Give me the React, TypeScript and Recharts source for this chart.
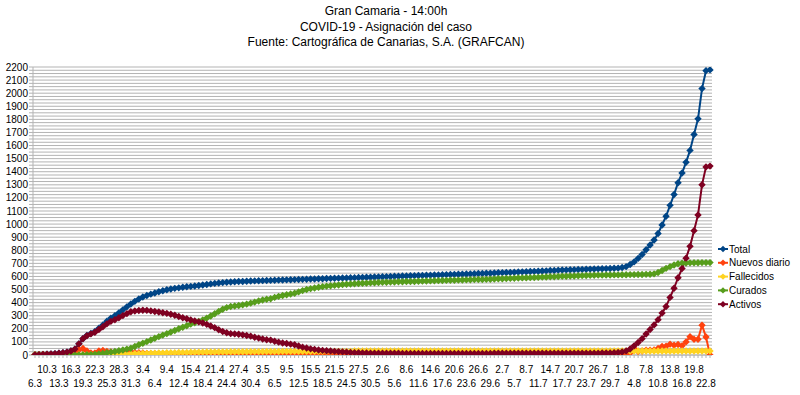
import React from 'react';
import { LineChart, Line, XAxis, YAxis, CartesianGrid } from 'recharts';

function dayLabels(month: number, from: number, to: number): string[] {
  const out: string[] = [];
  for (let d = from; d <= to; d++) out.push(`${d}.${month}`);
  return out;
}

const dates: string[] = [
  '6.3',
  ...dayLabels(3, 8, 31),
  ...dayLabels(4, 1, 30),
  ...dayLabels(5, 1, 31),
  ...dayLabels(6, 1, 30),
  ...dayLabels(7, 1, 31),
  ...dayLabels(8, 1, 23),
];

const total = [
  1, 2, 4, 6, 8, 10, 13, 17, 22, 30,
  45, 85, 125, 150, 165, 180, 205, 230, 258, 282,
  300, 322, 345, 368, 390, 410, 428, 443, 455, 465,
  474, 483, 491, 498, 504, 509, 513, 517, 521, 524,
  527, 531, 535, 539, 543, 547, 550, 553, 556, 558,
  560, 561, 562, 563, 565, 566, 567, 568, 569, 570,
  571, 572, 573, 574, 575, 576, 577, 578, 579, 580,
  581, 582, 583, 584, 585, 586, 587, 588, 589, 590,
  591, 592, 593, 594, 595, 596, 597, 598, 599, 600,
  601, 602, 603, 604, 605, 606, 607, 608, 609, 610,
  611, 612, 613, 614, 615, 616, 617, 618, 619, 620,
  621, 622, 623, 624, 625, 626, 628, 629, 630, 631,
  632, 634, 635, 636, 638, 639, 640, 642, 643, 645,
  646, 648, 649, 650, 651, 652, 653, 654, 655, 656,
  657, 658, 659, 660, 661, 663, 664, 668, 675, 691,
  711, 738, 768, 804, 840, 878, 928, 993, 1060, 1143,
  1226, 1316, 1390, 1472, 1563, 1684, 1804, 2035, 2172, 2178,
];

const nuevos = [
  1, 1, 2, 2, 2, 2, 3, 4, 5, 8,
  15, 40, 50, 30, 15, 15, 30, 35, 28, 24,
  20, 22, 23, 23, 22, 20, 18, 15, 12, 10,
  9, 9, 8, 7, 6, 5, 4, 4, 4, 3,
  3, 4, 4, 4, 4, 4, 3, 3, 3, 2,
  2, 1, 1, 1, 2, 1, 1, 1, 1, 1,
  1, 1, 1, 1, 1, 1, 1, 1, 1, 1,
  1, 1, 1, 1, 1, 1, 1, 1, 1, 1,
  1, 1, 1, 1, 1, 1, 1, 1, 1, 1,
  1, 1, 1, 1, 1, 1, 1, 1, 1, 1,
  1, 1, 1, 1, 1, 1, 1, 1, 1, 1,
  1, 1, 1, 1, 1, 1, 2, 1, 1, 1,
  1, 2, 1, 1, 2, 1, 1, 2, 1, 2,
  1, 2, 1, 1, 1, 1, 1, 1, 1, 1,
  1, 1, 1, 1, 1, 2, 1, 4, 7, 16,
  50, 27, 30, 36, 36, 38, 50, 65, 67, 83,
  75, 80, 70, 100, 140, 120, 120, 228, 137, 0,
];

const fallecidos = [
  0, 0, 0, 0, 0, 0, 0, 0, 0, 0,
  0, 0, 0, 1, 1, 1, 2, 2, 3, 3,
  4, 5, 6, 7, 8, 9, 10, 11, 12, 13,
  14, 15, 16, 17, 18, 18, 19, 20, 20, 21,
  21, 22, 22, 23, 23, 23, 24, 24, 24, 25,
  25, 25, 25, 25, 26, 26, 26, 26, 27, 27,
  27, 27, 28, 28, 28, 28, 28, 28, 28, 28,
  28, 28, 28, 28, 28, 28, 28, 28, 28, 28,
  31, 31, 31, 31, 31, 31, 31, 31, 31, 31,
  31, 31, 31, 31, 31, 31, 31, 31, 31, 31,
  31, 31, 31, 31, 31, 31, 31, 31, 31, 31,
  31, 31, 31, 31, 31, 31, 31, 31, 31, 31,
  31, 31, 31, 31, 31, 31, 31, 31, 31, 31,
  31, 31, 31, 31, 31, 31, 31, 31, 31, 31,
  31, 31, 31, 31, 31, 31, 31, 31, 31, 31,
  31, 31, 31, 31, 31, 31, 31, 31, 31, 31,
  31, 31, 31, 31, 31, 31, 31, 31, 31, 31,
];

const curados = [
  0, 0, 0, 0, 0, 0, 0, 0, 0, 0,
  0, 0, 1, 2, 3, 5, 8, 12, 17, 22,
  27, 32, 38, 45, 52, 65, 78, 90, 102, 115,
  128, 140, 152, 163, 175, 187, 200, 212, 224, 236,
  246, 256, 268, 282, 298, 315, 333, 350, 362, 370,
  374, 378, 383, 389, 396, 404, 412, 420, 426, 430,
  440, 448, 455, 460, 466, 472, 482, 492, 500, 507,
  512, 518, 522, 526, 529, 532, 535, 538, 540, 542,
  544, 546, 548, 549, 551, 552, 554, 555, 556, 557,
  558, 559, 560, 561, 561, 562, 563, 564, 565, 566,
  567, 568, 569, 570, 571, 571, 572, 573, 574, 575,
  576, 577, 577, 578, 579, 580, 582, 583, 584, 585,
  586, 588, 589, 590, 591, 592, 593, 595, 596, 598,
  598, 600, 601, 602, 603, 604, 605, 606, 607, 608,
  609, 610, 610, 611, 611, 612, 612, 613, 613, 614,
  614, 615, 615, 616, 617, 620, 630, 645, 662, 675,
  688, 697, 701, 703, 704, 705, 705, 706, 706, 706,
];

const activos = [
  1, 2, 4, 6, 8, 10, 13, 17, 22, 30,
  45, 85, 124, 147, 161, 174, 195, 216, 238, 257,
  269, 285, 301, 316, 330, 336, 340, 342, 341, 337,
  332, 328, 323, 318, 311, 304, 294, 285, 277, 267,
  260, 253, 245, 234, 222, 209, 193, 179, 170, 163,
  161, 158, 154, 149, 144, 136, 129, 122, 117, 114,
  105, 98, 92, 88, 83, 78, 69, 60, 53, 47,
  43, 38, 35, 32, 30, 28, 26, 24, 22, 20,
  18, 17, 16, 15, 14, 14, 13, 13, 13, 13,
  13, 13, 12, 12, 12, 12, 12, 12, 12, 12,
  12, 12, 12, 12, 12, 12, 12, 12, 12, 12,
  12, 12, 12, 12, 12, 13, 13, 13, 13, 13,
  13, 13, 13, 13, 13, 13, 13, 14, 14, 14,
  14, 14, 14, 14, 14, 14, 14, 14, 14, 14,
  14, 14, 15, 15, 16, 17, 19, 23, 31, 46,
  70, 95, 125, 160, 195, 230, 270, 320, 370, 440,
  510, 590, 660, 740, 830, 950, 1070, 1300, 1437, 1443,
];

const yTicks: number[] = [];
for (let v = 0; v <= 2200; v += 25) yTicks.push(v);

const titleLines = [
  'Gran Camaria - 14:00h',
  'COVID-19 - Asignación del caso',
  'Fuente: Cartográfica de Canarias, S.A. (GRAFCAN)',
];

const seriesDefs = [
  { key: 'total', name: 'Total', color: '#004586' },
  { key: 'nuevos', name: 'Nuevos diario', color: '#ff420e' },
  { key: 'fallecidos', name: 'Fallecidos', color: '#ffd320' },
  { key: 'curados', name: 'Curados', color: '#579d1c' },
  { key: 'activos', name: 'Activos', color: '#7e0021' },
];

const data = dates.map((d, i) => ({
  date: d,
  total: total[i],
  nuevos: nuevos[i],
  fallecidos: fallecidos[i],
  curados: curados[i],
  activos: activos[i],
}));

const FONT = 'Liberation Sans, Arial, sans-serif';

const makeDiamond = (color: string) => (props: any) => {
  const { cx, cy, index } = props;
  if (cx == null || cy == null) return <g key={`d${index}`} />;
  const r = 3.7;
  return (
    <polygon
      key={`d${index}`}
      points={`${cx},${cy - r} ${cx + r},${cy} ${cx},${cy + r} ${cx - r},${cy}`}
      fill={color}
      stroke="none"
    />
  );
};

const XTick = (props: any) => {
  const { x, y, payload } = props;
  const i = payload && payload.index != null ? payload.index : props.index;
  if (i % 3 !== 0) return <g />;
  const lower = (i / 3) % 2 === 0;
  return (
    <text x={x} y={y + (lower ? 29 : 15)} textAnchor="middle" fontSize={10} fill="#000" fontFamily={FONT}>
      {payload.value}
    </text>
  );
};

export default function App() {
  return (
    <div style={{ position: 'absolute', left: 0, top: 0, width: 800, height: 395, background: '#fff', fontFamily: FONT }}>
      <LineChart
        width={800}
        height={395}
        data={data}
        margin={{ top: 67, right: 88, bottom: 10, left: 0 }}
      >
        <CartesianGrid vertical={false} stroke="#b3b3b3" strokeWidth={1} />
        <XAxis
          dataKey="date"
          interval={0}
          height={30}
          padding={{ left: 2, right: 2 }}
          tick={<XTick />}
          tickSize={3}
          tickMargin={0}
          stroke="#b3b3b3"
          tickLine={{ stroke: '#b3b3b3' }}
        />
        <YAxis
          domain={[0, 2200]}
          ticks={yTicks}
          interval={0}
          width={33}
          tickSize={4}
          tickMargin={1}
          stroke="#b3b3b3"
          tick={{ fontSize: 10, fill: '#000', fontFamily: FONT }}
          tickFormatter={(v: number) => (v % 100 === 0 ? String(v) : '')}
          allowDataOverflow
        />
        {seriesDefs.map((s) => (
          <Line
            key={s.key}
            dataKey={s.key}
            name={s.name}
            stroke={s.color}
            strokeWidth={2}
            type="linear"
            dot={makeDiamond(s.color)}
            activeDot={false}
            isAnimationActive={false}
          />
        ))}
      </LineChart>
      <svg width={800} height={395} style={{ position: 'absolute', left: 0, top: 0, pointerEvents: 'none' }}>
        {titleLines.map((t, i) => (
          <text key={i} x={386} y={15 + i * 15.5} textAnchor="middle" fontSize={12} fill="#000" fontFamily={FONT}>
            {t}
          </text>
        ))}
        {seriesDefs.map((s, i) => {
          const cy = 249 + i * 13.8;
          return (
            <g key={s.key}>
              <line x1={718} x2={728} y1={cy} y2={cy} stroke={s.color} strokeWidth={2} />
              <polygon points={`723,${cy - 3.2} 726.2,${cy} 723,${cy + 3.2} 719.8,${cy}`} fill={s.color} />
              <text x={729} y={cy + 3.5} fontSize={10} fill="#000" fontFamily={FONT}>
                {s.name}
              </text>
            </g>
          );
        })}
      </svg>
    </div>
  );
}
